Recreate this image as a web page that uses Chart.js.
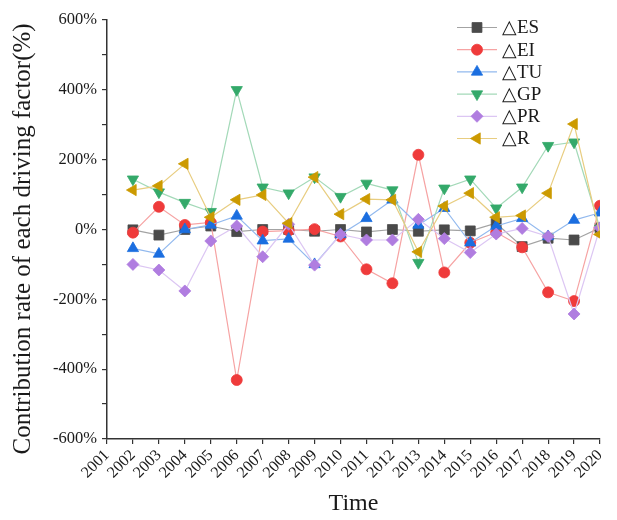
<!DOCTYPE html>
<html>
<head>
<meta charset="utf-8">
<script src="https://cdn.jsdelivr.net/npm/chart.js@4/dist/chart.umd.min.js"></script>
<style>
  html, body { margin: 0; padding: 0; background: #fff; }
  #wrap { width: 617px; height: 520px; }
</style>
</head>
<body>
<div id="wrap"><canvas id="chart"></canvas></div>
<script>
// x axis runs 2001..2020, data starts in 2002
const axisYears = [2001, 2020];
const years = [2002, 2003, 2004, 2005, 2006, 2007, 2008, 2009, 2010, 2011,
               2012, 2013, 2014, 2015, 2016, 2017, 2018, 2019, 2020];

const es = [-1, -16, 0, 10, -6, 0, 0, -5, 0, -7, 0, -5, -1, -4, 18, -49, -25, -30, 5];
const ei = [-9, 65, 13, 20, -431, -6, -3, 1, -20, -114, -154, 214, -123, -38, -8, -51, -180, -205, 68];
const tu = [-54, -70, 0, 13, 39, -32, -27, -100, -14, 32, 85, 13, 61, -38, 10, 32, -20, 27, 48];
const gp = [144, 107, 77, 51, 400, 121, 104, 150, 94, 132, 113, -95, 118, 144, 61, 121, 240, 250, 3];
const pr = [-100, -116, -176, -33, 10, -78, 15, -102, -14, -30, -30, 29, -26, -66, -13, 3, -20, -242, 5];
const r  = [113, 125, 188, 35, 85, 99, 18, 150, 44, 87, 85, -64, 67, 104, 35, 40, 104, 302, -14];

const seriesNames = ['△ES', '△EI', '△TU', '△GP', '△PR', '△R'];

const serif = "'Liberation Serif', 'Times New Roman', serif";

const toPoints = (vals) => vals.map((v, i) => ({ x: years[i], y: v }));

const makeSet = (label, vals, marker, line, style, radius, rotation, order) => ({
  label,
  data: toPoints(vals),
  borderColor: line,
  borderWidth: 1.2,
  backgroundColor: marker,
  pointBackgroundColor: marker,
  pointBorderColor: marker,
  pointBorderWidth: 0.8,
  pointStyle: style,
  pointRadius: radius,
  pointHoverRadius: radius,
  pointRotation: rotation,
  tension: 0,
  order,
});

const datasets = [
  makeSet(seriesNames[0], es, '#4a4a4a', '#a3a3a3', 'rect', 7, 0, 6),
  makeSet(seriesNames[1], ei, '#ef3b3b', '#f6a3a3', 'circle', 5.5, 0, 5),
  makeSet(seriesNames[2], tu, '#1b6ee0', '#92b9ee', 'triangle', 6.5, 0, 4),
  makeSet(seriesNames[3], gp, '#34a96a', '#a3d9b8', 'triangle', 6.5, 180, 3),
  makeSet(seriesNames[4], pr, '#b07de0', '#dcc6f3', 'rectRot', 6, 0, 2),
  makeSet(seriesNames[5], r,  '#cc9a00', '#e8cd80', 'triangle', 6.5, 270, 1),
];

// legend with a short line through each marker, like the original
const lineLegend = {
  id: 'lineLegend',
  afterDraw(chart, args, opts) {
    const ctx = chart.ctx;
    ctx.save();
    chart.data.datasets.forEach((ds, i) => {
      const y = opts.y + i * opts.step;
      ctx.strokeStyle = ds.borderColor;
      ctx.lineWidth = ds.borderWidth;
      ctx.beginPath();
      ctx.moveTo(opts.x, y);
      ctx.lineTo(opts.x + opts.len, y);
      ctx.stroke();
      ctx.fillStyle = ds.pointBackgroundColor;
      ctx.strokeStyle = ds.pointBorderColor;
      ctx.lineWidth = ds.pointBorderWidth;
      Chart.helpers.drawPoint(ctx, {
        pointStyle: ds.pointStyle,
        radius: ds.pointRadius,
        rotation: ds.pointRotation,
        borderWidth: ds.pointBorderWidth,
      }, opts.x + opts.len / 2, y);
      ctx.fillStyle = '#1a1a1a';
      ctx.font = '19px ' + serif;
      ctx.textAlign = 'left';
      ctx.textBaseline = 'middle';
      ctx.fillText(ds.label, opts.x + opts.len + 5, y + 1);
    });
    ctx.restore();
  }
};

new Chart(document.getElementById('chart'), {
  type: 'line',
  data: { datasets },
  plugins: [lineLegend],
  options: {
    responsive: true,
    maintainAspectRatio: false,
    animation: false,
    layout: { padding: { top: 20, right: 17, left: 0, bottom: 0 } },
    plugins: {
      legend: { display: false },
      tooltip: { enabled: false },
      lineLegend: { x: 457, y: 27.5, step: 22.2, len: 40 },
    },
    scales: {
      x: {
        type: 'linear',
        min: axisYears[0],
        max: axisYears[1],
        border: { display: true, color: '#333', width: 1.5 },
        grid: { display: true, drawOnChartArea: false, drawTicks: true, tickLength: 5, color: '#333', lineWidth: 1.2 },
        ticks: {
          stepSize: 1,
          autoSkip: false,
          minRotation: 45,
          maxRotation: 45,
          padding: 2,
          color: '#1a1a1a',
          font: { family: serif, size: 16 },
          callback: (v) => String(v),
        },
        title: {
          display: true,
          text: 'Time',
          color: '#1a1a1a',
          font: { family: serif, size: 24, lineHeight: 1.2 },
          padding: { top: 4, bottom: 2 },
        },
        afterFit: (scale) => { scale.height = 81; },
      },
      y: {
        min: -600,
        max: 600,
        border: { display: true, color: '#333', width: 1.5 },
        grid: { display: true, drawOnChartArea: false, drawTicks: true, tickLength: 5, color: '#333', lineWidth: 1.2 },
        ticks: {
          stepSize: 100,
          autoSkip: false,
          padding: 5,
          color: '#1a1a1a',
          font: { family: serif, size: 16.5 },
          callback: (v) => (v % 200 === 0 ? v + '%' : ''),
        },
        title: {
          display: true,
          // trailing spaces nudge the label down a little, as in the original
          text: 'Contribution rate of each driving factor(%)   ',
          color: '#1a1a1a',
          font: { family: serif, size: 25, lineHeight: 1.2 },
          padding: { top: 8, bottom: 0 },
        },
        afterFit: (scale) => { scale.width = 107; },
      },
    },
  },
});
</script>
</body>
</html>
